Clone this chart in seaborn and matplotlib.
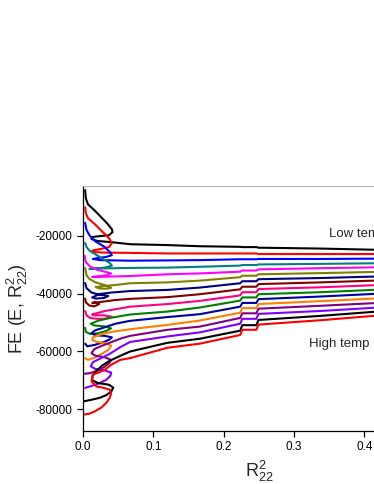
import matplotlib
matplotlib.use("Agg")
import matplotlib.pyplot as plt
import seaborn as sns
import pandas as pd

# ---------------- data ----------------
curve_names = ["c01", "c02", "c03", "c04", "c05", "c06", "c07", "c08",
               "c09", "c10", "c11", "c12", "c13", "c14", "c15", "c16"]
curve_colors = ["#000000", "#ff0000", "#0000ff", "#008080", "#ff00ff", "#808000",
                "#000080", "#800000", "#ff0080", "#008000", "#0000a0", "#ff8000",
                "#800080", "#8000ff", "#000000", "#ff0000"]

# low-R^2 (wiggly) part of each curve
c01_wx = [0.003, 0.004, 0.007, 0.016, 0.026, 0.034, 0.041, 0.042, 0.037, 0.024, 0.013, 0.012, 0.021, 0.041]
c01_wy = [-4200, -7000, -9100, -11100, -13600, -15600, -17700, -18700, -19800, -20100, -20400, -21100, -21800, -22200]
c02_wx = [0.003, 0.004, 0.007, 0.017, 0.028, 0.037, 0.041, 0.037, 0.024, 0.013, 0.014, 0.031]
c02_wy = [-10100, -12200, -13900, -16000, -18700, -20800, -22500, -23900, -24600, -25100, -25600, -25800]
c03_wx = [0.003, 0.005, 0.010, 0.018, 0.030, 0.038, 0.041, 0.033, 0.020, 0.014, 0.024]
c03_wy = [-15500, -18000, -20100, -22000, -23700, -25600, -26700, -27300, -27700, -28000, -28400]
c04_wx = [0.003, 0.005, 0.010, 0.017, 0.028, 0.038, 0.041, 0.031, 0.017, 0.009, 0.024]
c04_wy = [-22500, -23900, -25300, -26300, -27900, -29400, -30300, -31000, -31300, -31500, -31300]
c05_wx = [0.002, 0.004, 0.010, 0.021, 0.033, 0.040, 0.033, 0.018, 0.013, 0.024]
c05_wy = [-26800, -29100, -30600, -31800, -32500, -33000, -33700, -34100, -34200, -34200]
c06_wx = [0.003, 0.005, 0.009, 0.017, 0.030, 0.040, 0.033, 0.023, 0.018, 0.031, 0.046]
c06_wy = [-31100, -33600, -34900, -36000, -37000, -38000, -38300, -38200, -37700, -37300, -37000]
c07_wx = [0.003, 0.005, 0.012, 0.024, 0.036, 0.030, 0.018, 0.013, 0.024, 0.041]
c07_wy = [-36300, -38100, -39600, -40400, -40800, -41500, -41700, -41300, -40100, -39600]
c08_wx = [0.003, 0.004, 0.009, 0.016, 0.023, 0.017, 0.013, 0.024, 0.046]
c08_wy = [-41700, -43000, -44100, -44400, -43600, -43000, -43200, -42900, -42200]
c09_wx = [0.003, 0.005, 0.010, 0.020, 0.031, 0.041, 0.030, 0.017, 0.013, 0.031, 0.053]
c09_wy = [-46000, -47500, -48400, -48700, -48700, -48000, -47500, -47500, -47200, -46000, -45100]
c10_wx = [0.003, 0.004, 0.010, 0.021, 0.033, 0.040, 0.030, 0.016, 0.011, 0.021, 0.038]
c10_wy = [-51800, -53200, -53900, -53700, -52900, -52000, -51300, -51000, -50400, -49400, -48400]
c11_wx = [0.003, 0.006, 0.017, 0.030, 0.038, 0.041, 0.031, 0.018, 0.012, 0.017, 0.030, 0.046]
c11_wy = [-57300, -58200, -57700, -56700, -55800, -55100, -54600, -54400, -53700, -52700, -51700, -50400]
c12_wx = [0.003, 0.007, 0.016, 0.027, 0.036, 0.040, 0.033, 0.020, 0.013, 0.014, 0.024, 0.041]
c12_wy = [-62300, -62900, -62200, -60800, -59400, -58000, -57200, -56700, -56000, -55100, -54200, -53200]
c13_wx = [0.002, 0.010, 0.020, 0.030, 0.037, 0.040, 0.031, 0.018, 0.012, 0.016, 0.027, 0.041, 0.055]
c13_wy = [-67700, -67500, -66700, -65400, -64100, -62900, -62000, -61500, -60600, -59200, -58000, -56700, -55400]
c14_wx = [0.003, 0.011, 0.023, 0.033, 0.039, 0.040, 0.030, 0.017, 0.011, 0.014, 0.024, 0.038, 0.053]
c14_wy = [-72600, -72000, -71000, -69800, -68400, -67300, -66500, -66000, -65100, -63700, -62500, -60800, -58500]
c15_wx = [0.002, 0.012, 0.024, 0.033, 0.040, 0.043, 0.037, 0.021, 0.013, 0.0135, 0.020, 0.027, 0.038, 0.053]
c15_wy = [-77200, -76700, -76000, -75100, -73900, -72500, -71500, -70900, -69900, -68400, -66500, -64900, -63200, -61500]
c16_wx = [0.002, 0.009, 0.017, 0.026, 0.033, 0.038, 0.040, 0.038, 0.028, 0.019, 0.012, 0.014, 0.023, 0.031, 0.040, 0.053]
c16_wy = [-81800, -81500, -80700, -79400, -77800, -76000, -74600, -73200, -72500, -72100, -70300, -68000, -67200, -66300, -64600, -62900]

# plateau part, sampled at shared R^2 positions
plateau_x = [0.067, 0.12, 0.166, 0.2235, 0.2265, 0.2465, 0.2495, 0.337, 0.4125, 0.46]
c01_py = [-22900, -23200, -23600, -23800, -23900, -23900, -24100, -24400, -24800, -25000]
c02_py = [-25900, -26100, -26100, -26100, -26100, -26100, -26300, -26300, -26300, -26300]
c03_py = [-28600, -28500, -28400, -28100, -28100, -28100, -28000, -28000, -27900, -27900]
c04_py = [-31100, -31000, -30700, -30300, -30100, -30100, -29900, -29700, -29500, -29400]
c05_py = [-33900, -33300, -33000, -32400, -32000, -32000, -31600, -31200, -30900, -30700]
c06_py = [-36400, -36100, -35500, -34300, -33800, -33800, -33300, -32900, -32500, -32300]
c07_py = [-39100, -38700, -37900, -36400, -35700, -35700, -35000, -34600, -34100, -33900]
c08_py = [-41800, -41200, -40200, -38500, -37600, -37600, -36700, -36100, -35500, -35200]
c09_py = [-44500, -43600, -42500, -40600, -39500, -39500, -38400, -37800, -37100, -36700]
c10_py = [-47200, -46200, -44800, -42400, -41300, -41300, -40200, -39500, -38700, -38300]
c11_py = [-49400, -48100, -47100, -44500, -43200, -43200, -41900, -41000, -40100, -39600]
c12_py = [-52300, -50800, -49300, -46600, -45000, -45000, -43600, -42600, -41700, -41100]
c13_py = [-54600, -52500, -51400, -48400, -46800, -46800, -45200, -44200, -43300, -42800]
c14_py = [-56700, -54800, -53400, -50400, -48700, -48700, -47000, -46000, -44900, -44200]
c15_py = [-60000, -57000, -55600, -52800, -50900, -50900, -49100, -47700, -46300, -45400]
c16_py = [-62300, -58700, -57300, -54300, -52500, -52500, -50700, -49200, -47700, -46800]

x_ticks = [0.0, 0.1, 0.2, 0.3, 0.4]
x_tick_labels = ["0.0", "0.1", "0.2", "0.3", "0.4"]
y_ticks = [-80000, -60000, -40000, -20000]
y_tick_labels = ["-80000", "-60000", "-40000", "-20000"]

wig_x = [c01_wx, c02_wx, c03_wx, c04_wx, c05_wx, c06_wx, c07_wx, c08_wx,
         c09_wx, c10_wx, c11_wx, c12_wx, c13_wx, c14_wx, c15_wx, c16_wx]
wig_y = [c01_wy, c02_wy, c03_wy, c04_wy, c05_wy, c06_wy, c07_wy, c08_wy,
         c09_wy, c10_wy, c11_wy, c12_wy, c13_wy, c14_wy, c15_wy, c16_wy]
plat_y = [c01_py, c02_py, c03_py, c04_py, c05_py, c06_py, c07_py, c08_py,
          c09_py, c10_py, c11_py, c12_py, c13_py, c14_py, c15_py, c16_py]

rows = []
for name, wx, wy, py in zip(curve_names, wig_x, wig_y, plat_y):
    xs = list(wx) + list(plateau_x)
    ys = list(wy) + list(py)
    for i, (xv, yv) in enumerate(zip(xs, ys)):
        rows.append({"curve": name, "order": i, "R2": xv, "FE": yv})
df = pd.DataFrame(rows)

# ---------------- plot ----------------
sns.set_style("ticks")
plt.rcParams["font.family"] = ["Liberation Sans", "DejaVu Sans"]
plt.rcParams["mathtext.default"] = "regular"
plt.rcParams["axes.unicode_minus"] = False

fig = plt.figure(figsize=(3.74, 4.84), dpi=100)
ax = fig.add_axes([0.222, 0.1095, 0.94, 0.506])

sns.lineplot(data=df, x="R2", y="FE", hue="curve", hue_order=curve_names,
             palette=curve_colors, sort=False, estimator=None, units="curve",
             legend=False, linewidth=1.5, ax=ax)

ax.set_xlim(0, 0.5)
ax.set_ylim(-87500, -2800)
ax.set_xticks(x_ticks)
ax.set_xticklabels(x_tick_labels)
ax.set_yticks(y_ticks)
ax.set_yticklabels(y_tick_labels)
ax.tick_params(axis="both", direction="out", length=4, width=0.9,
               labelsize=8.5, color="black", labelcolor="black")
ax.set_xlabel("R$^2_{22}$", fontsize=13)
ax.set_ylabel("FE (E, R$^2_{22}$)", fontsize=13)

for side in ["left", "bottom"]:
    ax.spines[side].set_color("black")
    ax.spines[side].set_linewidth(0.9)
ax.spines["top"].set_color("#b8b8b8")
ax.spines["top"].set_linewidth(0.8)
ax.spines["right"].set_color("#b8b8b8")

ax.text(0.350, -19400, "Low temp", fontsize=9.5, va="center", ha="left")
ax.text(0.322, -57400, "High temp", fontsize=9.5, va="center", ha="left")

fig.savefig("out.png", dpi=100)
